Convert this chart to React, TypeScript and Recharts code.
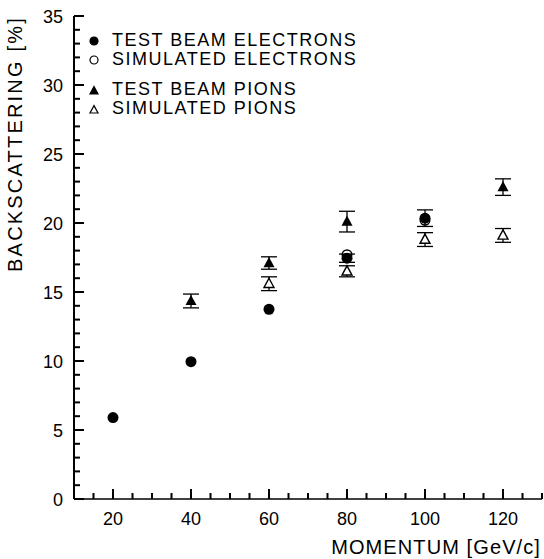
import { ScatterChart, Scatter, XAxis, YAxis, ErrorBar, Legend, Label } from "recharts";

// momentum [GeV/c] and backscattering [%]
const electronMomentum = [20, 40, 60, 80, 100];
const testBeamElectrons = [5.9, 9.95, 13.75, 17.45, 20.35];
const testBeamElectronErr = [0, 0, 0, 0.3, 0.6];

const simElectronMomentum = [80, 100];
const simulatedElectrons = [17.7, 20.2];

const pionMomentum = [40, 60, 80, 120];
const testBeamPions = [14.35, 17.1, 20.1, 22.6];
const testBeamPionErr = [0.5, 0.45, 0.75, 0.6];

const simPionMomentum = [60, 80, 100, 120];
const simulatedPions = [15.6, 16.5, 18.8, 19.1];
const simulatedPionErr = [0.5, 0.4, 0.5, 0.5];

const xTicks = Array.from({ length: 25 }, (_, i) => 10 + i * 5);
const yTicks = Array.from({ length: 36 }, (_, i) => i);

const FONT = "'Liberation Sans', Arial, Helvetica, sans-serif";
const TICK_W = 2;

const toPoints = (xs: number[], ys: number[], errs?: number[]) =>
  xs.map((x, i) => ({ x, y: ys[i], err: errs ? errs[i] : 0 }));

const dotFilled = (p: any) => <circle cx={p.cx} cy={p.cy} r={5.5} fill="#000" />;
const dotOpen = (p: any) => <circle cx={p.cx} cy={p.cy} r={4.8} fill="none" stroke="#000" strokeWidth={1.4} />;
const triPath = (cx: number, cy: number, s: number) =>
  `M${cx},${cy - s * 1.1} L${cx + s},${cy + s * 0.75} L${cx - s},${cy + s * 0.75} Z`;
const triFilled = (p: any) => <path d={triPath(p.cx, p.cy, 5.5)} fill="#000" />;
const triOpen = (p: any) => <path d={triPath(p.cx, p.cy, 5)} fill="#fff" stroke="#000" strokeWidth={1.4} />;

// ticks point inward; tickSize/tickMargin are 0 so (x, y) sits on the axis line
const BottomTick = ({ x, y, payload }: any) => {
  const major = payload.value % 20 === 0;
  const px = Number(x);
  const py = Number(y);
  return (
    <g>
      <path d={`M${px},${py} V${py - (major ? 10 : 6)}`} stroke="#000" strokeWidth={TICK_W} fill="none" />
      {major && (
        <text x={px} y={py + 26} textAnchor="middle" fontSize={18} fontFamily={FONT} fill="#000">
          {payload.value}
        </text>
      )}
    </g>
  );
};

const TopTick = ({ x, y, payload }: any) => {
  const major = payload.value % 20 === 0;
  const px = Number(x);
  const py = Number(y);
  return <path d={`M${px},${py} V${py + (major ? 10 : 6)}`} stroke="#000" strokeWidth={TICK_W} fill="none" />;
};

const LeftTick = ({ x, y, payload }: any) => {
  const major = payload.value % 5 === 0;
  const px = Number(x);
  const py = Number(y);
  return (
    <g>
      <path d={`M${px},${py} H${px + (major ? 10 : 6)}`} stroke="#000" strokeWidth={TICK_W} fill="none" />
      {major && (
        <text x={px - 11} y={py + 6.5} textAnchor="end" fontSize={18} fontFamily={FONT} fill="#000">
          {payload.value}
        </text>
      )}
    </g>
  );
};

const RightTick = ({ x, y, payload }: any) => {
  const major = payload.value % 5 === 0;
  const px = Number(x);
  const py = Number(y);
  return <path d={`M${px},${py} H${px - (major ? 10 : 6)}`} stroke="#000" strokeWidth={TICK_W} fill="none" />;
};

const legendItems = [
  { label: "TEST BEAM ELECTRONS", kind: "circle", filled: true },
  { label: "SIMULATED ELECTRONS", kind: "circle", filled: false },
  { label: "TEST BEAM PIONS", kind: "tri", filled: true },
  { label: "SIMULATED PIONS", kind: "tri", filled: false },
];

const LegendBox = () => (
  <div style={{ fontFamily: FONT, fontSize: 18, color: "#000", lineHeight: "19px" }}>
    {legendItems.map((it, i) => (
      <div key={it.label} style={{ display: "flex", alignItems: "center", marginTop: i === 2 ? 11 : 0 }}>
        <svg width={16} height={16} style={{ marginRight: 10 }}>
          {it.kind === "circle" ? (
            <circle cx={8} cy={8} r={4} fill={it.filled ? "#000" : "none"} stroke="#000" strokeWidth={1.2} />
          ) : (
            <path d={triPath(8, 9, 4)} fill={it.filled ? "#000" : "none"} stroke="#000" strokeWidth={1.2} />
          )}
        </svg>
        <span style={{ letterSpacing: 1.5 }}>{it.label}</span>
      </div>
    ))}
  </div>
);

export default function App() {
  return (
    <div style={{ position: "absolute", left: 0, top: 0, background: "#fff" }}>
      <ScatterChart width={544} height={559} margin={{ top: 16, right: 2, bottom: 0, left: 0 }}>
        <XAxis
          type="number"
          dataKey="x"
          domain={[10, 130]}
          ticks={xTicks}
          interval={0}
          height={60}
          tickSize={0}
          tickMargin={0}
          axisLine={{ stroke: "#000", strokeWidth: 1.5 }}
          tickLine={false}
          tick={<BottomTick />}
        >
          <Label
            content={() => (
              <text x={541} y={554} textAnchor="end" fontSize={20} fontFamily={FONT} letterSpacing={1.1} fill="#000">
                MOMENTUM [GeV/c]
              </text>
            )}
          />
        </XAxis>
        <XAxis
          xAxisId="top"
          orientation="top"
          type="number"
          dataKey="x"
          domain={[10, 130]}
          ticks={xTicks}
          interval={0}
          height={0}
          tickSize={0}
          tickMargin={0}
          axisLine={{ stroke: "#000", strokeWidth: 1.5 }}
          tickLine={false}
          tick={<TopTick />}
        />
        <YAxis
          type="number"
          dataKey="y"
          domain={[0, 35]}
          ticks={yTicks}
          interval={0}
          width={74}
          tickSize={0}
          tickMargin={0}
          axisLine={{ stroke: "#000", strokeWidth: 2 }}
          tickLine={false}
          tick={<LeftTick />}
        >
          <Label
            content={() => (
              <text
                x={22}
                y={16}
                transform="rotate(-90 22 16)"
                textAnchor="end"
                fontSize={20}
                fontFamily={FONT}
                letterSpacing={2.2}
                fill="#000"
              >
                BACKSCATTERING [%]
              </text>
            )}
          />
        </YAxis>
        <YAxis
          yAxisId="right"
          orientation="right"
          type="number"
          dataKey="y"
          domain={[0, 35]}
          ticks={yTicks}
          interval={0}
          width={0}
          tickSize={0}
          tickMargin={0}
          axisLine={{ stroke: "#000", strokeWidth: 1.5 }}
          tickLine={false}
          tick={<RightTick />}
        />
        <Legend
          layout="vertical"
          align="center"
          verticalAlign="middle"
          content={() => <LegendBox />}
          wrapperStyle={{ top: 31, left: 86, width: 320, height: "auto" }}
        />
        <Scatter
          name="SIMULATED PIONS"
          data={toPoints(simPionMomentum, simulatedPions, simulatedPionErr)}
          shape={triOpen}
          isAnimationActive={false}
        >
          <ErrorBar dataKey="err" direction="y" width={8} stroke="#000" strokeWidth={1.3} isAnimationActive={false} />
        </Scatter>
        <Scatter
          name="TEST BEAM PIONS"
          data={toPoints(pionMomentum, testBeamPions, testBeamPionErr)}
          shape={triFilled}
          isAnimationActive={false}
        >
          <ErrorBar dataKey="err" direction="y" width={8} stroke="#000" strokeWidth={1.3} isAnimationActive={false} />
        </Scatter>
        <Scatter
          name="SIMULATED ELECTRONS"
          data={toPoints(simElectronMomentum, simulatedElectrons)}
          shape={dotOpen}
          isAnimationActive={false}
        />
        <Scatter
          name="TEST BEAM ELECTRONS"
          data={toPoints(electronMomentum, testBeamElectrons, testBeamElectronErr)}
          shape={dotFilled}
          isAnimationActive={false}
        >
          <ErrorBar dataKey="err" direction="y" width={8} stroke="#000" strokeWidth={1.3} isAnimationActive={false} />
        </Scatter>
      </ScatterChart>
    </div>
  );
}
